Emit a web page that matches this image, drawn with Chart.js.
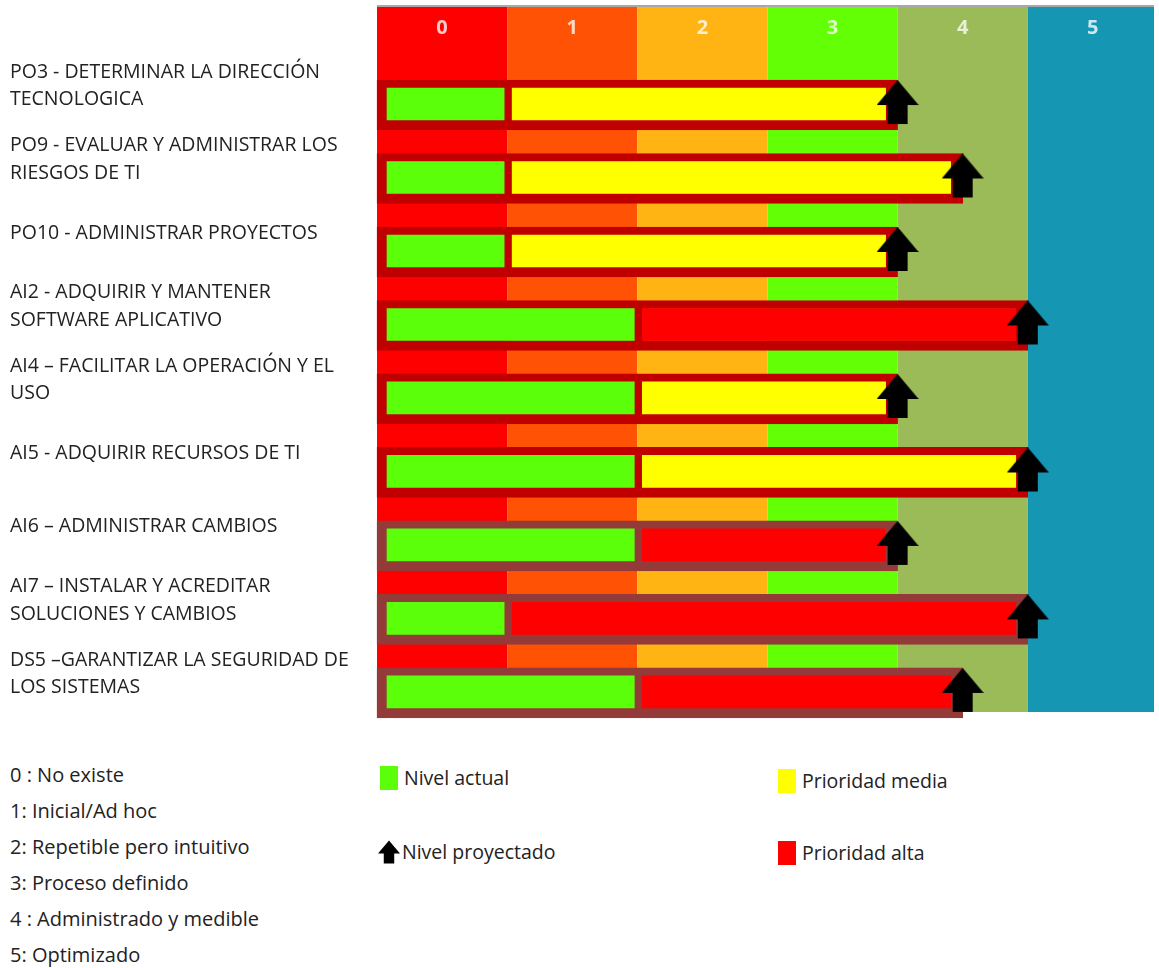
<!DOCTYPE html>
<html>
<head>
<meta charset="utf-8">
<script src="https://cdn.jsdelivr.net/npm/chart.js@4"></script>
<style>
  body { margin: 0; background: #fff; font-family: "Open Sans", sans-serif; color: #222; }
  #wrap { position: relative; width: 1159px; height: 968px; overflow: hidden; }
  #chartBox { position: absolute; left: 0; top: 0; width: 1159px; height: 722px; }
  .lvl { position: absolute; left: 10px; font-size: 20px; line-height: 24px; }
  .key { position: absolute; font-size: 19.5px; line-height: 24px; display: flex; align-items: center; }
  .sw { width: 18px; height: 24px; margin-right: 6px; }
</style>
</head>
<body>
<div id="wrap">
  <div id="chartBox"><canvas id="matrix"></canvas></div>
</div>
<script>
// procesos evaluados (de arriba hacia abajo)
const categories = [
    ['PO3 - DETERMINAR LA DIRECCIÓN', 'TECNOLOGICA'],
    ['PO9 - EVALUAR Y ADMINISTRAR LOS', 'RIESGOS DE TI'],
    ['PO10 - ADMINISTRAR PROYECTOS'],
    ['AI2 - ADQUIRIR Y MANTENER', 'SOFTWARE APLICATIVO'],
    ['AI4 \u2013 FACILITAR LA OPERACIÓN Y EL', 'USO'],
    ['AI5 - ADQUIRIR RECURSOS DE TI'],
    ['AI6 \u2013 ADMINISTRAR CAMBIOS'],
    ['AI7 \u2013 INSTALAR Y ACREDITAR', 'SOLUCIONES Y CAMBIOS'],
    ['DS5 \u2013GARANTIZAR LA SEGURIDAD DE', 'LOS SISTEMAS']
];
const currentLevel   = [1, 1, 1, 2, 2, 2, 2, 1, 2];
const projectedLevel = [4, 4.5, 4, 5, 4, 5, 4, 5, 4.5];
const priority       = ['media', 'media', 'media', 'alta', 'media', 'media', 'alta', 'alta', 'alta'];

const levelTicks = ['0', '1', '2', '3', '4', '5'];
const levelNames = [
    '0 : No existe',
    '1: Inicial/Ad hoc',
    '2: Repetible pero intuitivo',
    '3: Proceso definido',
    '4 : Administrado y medible',
    '5: Optimizado'
];

// colores
const columnColors = ['#ff0000', '#ff5204', '#ffb414', '#62ff05', '#9bbb59', '#1597b4'];
const priorityColors = { media: '#ffff00', alta: '#ff0000' };
const greenFill = '#5cff0a';
const borderColor = i => (i < 6 ? '#c00000' : '#943a38');

// flecha negra (nivel proyectado)
function makeArrow() {
    const c = document.createElement('canvas');
    c.width = 42;
    c.height = 50;
    const g = c.getContext('2d');
    g.fillStyle = '#000';
    g.beginPath();
    g.moveTo(21, 0);
    g.lineTo(42, 25);
    g.lineTo(31, 25);
    g.lineTo(31, 44);
    g.lineTo(11, 44);
    g.lineTo(11, 25);
    g.lineTo(0, 25);
    g.closePath();
    g.fill();
    return c;
}

// franjas de color por nivel, desde la cabecera hasta el fondo
const columnBands = {
    id: 'columnBands',
    beforeDraw(chart) {
        const { ctx, chartArea, scales } = chart;
        const x = scales.x;
        const top = x.top;
        ctx.save();
        columnColors.forEach((col, k) => {
            const l = x.getPixelForValue(k);
            const r = Math.min(x.getPixelForValue(k + 1), chartArea.right);
            ctx.fillStyle = col;
            ctx.fillRect(l, top, r - l, chartArea.bottom - top);
        });
        ctx.fillStyle = '#a8a8a8';
        ctx.fillRect(chartArea.left, top - 2, chartArea.right - chartArea.left, 2);
        ctx.restore();
    }
};

const barBase = {
    type: 'bar',
    grouped: false,
    barThickness: 50,
    borderSkipped: false,
    clip: false,
    order: 1
};

new Chart(document.getElementById('matrix'), {
    type: 'bar',
    data: {
        datasets: [
            {
                type: 'scatter',
                label: 'Nivel proyectado',
                data: projectedLevel.map((p, i) => ({ x: p, y: i })),
                pointStyle: makeArrow(),
                showLine: false,
                clip: false,
                order: 0
            },
            Object.assign({}, barBase, {
                label: 'Nivel actual',
                data: currentLevel.map((c, i) => ({ x: [0, c], y: i })),
                backgroundColor: greenFill,
                borderColor: currentLevel.map((c, i) => borderColor(i)),
                borderWidth: { top: 8, bottom: 10, left: 10, right: 3 }
            }),
            Object.assign({}, barBase, {
                label: 'Prioridad',
                data: currentLevel.map((c, i) => ({ x: [c, projectedLevel[i]], y: i })),
                backgroundColor: priority.map(p => priorityColors[p]),
                borderColor: currentLevel.map((c, i) => borderColor(i)),
                borderWidth: { top: 8, bottom: 10, left: 5, right: 12 }
            })
        ]
    },
    options: {
        indexAxis: 'y',
        responsive: true,
        maintainAspectRatio: false,
        animation: false,
        events: [],
        layout: { padding: { top: 7, bottom: 10, left: 10, right: 0 } },
        plugins: {
            legend: { display: false },
            tooltip: { enabled: false }
        },
        scales: {
            x: {
                type: 'linear',
                position: 'top',
                min: 0,
                max: 5.97,
                grid: { display: false, drawTicks: false },
                border: { display: false },
                afterBuildTicks: scale => {
                    scale.ticks = levelTicks.map((t, k) => ({ value: k + 0.5 }));
                },
                afterFit: scale => {
                    scale.height = 44;
                    scale.paddingLeft = 0;
                    scale.paddingRight = 0;
                },
                ticks: {
                    autoSkip: false,
                    maxRotation: 0,
                    minRotation: 0,
                    padding: 11,
                    color: 'rgba(255,255,255,0.78)',
                    font: { family: 'Open Sans', size: 20, weight: 'bold' },
                    callback: v => levelTicks[Math.floor(v)]
                }
            },
            y: {
                type: 'linear',
                reverse: true,
                offset: false,
                min: -0.735,
                max: 8.26,
                grid: { display: false, drawTicks: false },
                border: { display: false },
                afterBuildTicks: scale => {
                    scale.ticks = categories.map((c, i) => ({ value: i }));
                },
                afterFit: scale => {
                    scale.width = 367;
                    scale.paddingTop = 0;
                    scale.paddingBottom = 0;
                },
                ticks: {
                    autoSkip: false,
                    crossAlign: 'far',
                    labelOffset: -19,
                    color: '#222',
                    font: { family: 'Open Sans', size: 19.5, lineHeight: 1.42 },
                    callback: v => categories[v]
                }
            }
        }
    },
    plugins: [columnBands]
});

// leyenda inferior
const wrap = document.getElementById('wrap');
levelNames.forEach((name, k) => {
    const d = document.createElement('div');
    d.className = 'lvl';
    d.style.top = (763 + k * 36) + 'px';
    d.textContent = name;
    wrap.appendChild(d);
});

const keys = [
    { left: 380, top: 766, swatch: greenFill, text: 'Nivel actual' },
    { left: 778, top: 769, swatch: priorityColors.media, text: 'Prioridad media' },
    { left: 378, top: 840, arrow: true, text: 'Nivel proyectado' },
    { left: 778, top: 841, swatch: priorityColors.alta, text: 'Prioridad alta' }
];
keys.forEach(k => {
    const d = document.createElement('div');
    d.className = 'key';
    d.style.left = k.left + 'px';
    d.style.top = k.top + 'px';
    if (k.arrow) {
        d.innerHTML = '<svg width="22" height="24" viewBox="0 0 42 44" style="margin-right:2px">' +
            '<path d="M21 0 L42 25 L31 25 L31 44 L11 44 L11 25 L0 25 Z" fill="#000"/></svg>';
    } else {
        const s = document.createElement('div');
        s.className = 'sw';
        s.style.background = k.swatch;
        d.appendChild(s);
    }
    const t = document.createElement('span');
    t.textContent = k.text;
    d.appendChild(t);
    wrap.appendChild(d);
});
</script>
</body>
</html>
